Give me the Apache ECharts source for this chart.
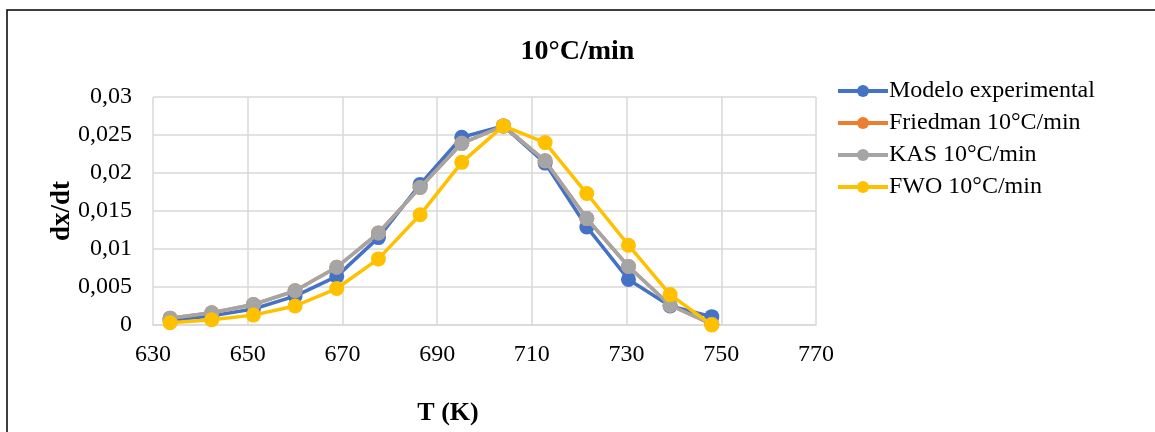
<!DOCTYPE html>
<html>
<head>
<meta charset="utf-8">
<script src="https://cdn.jsdelivr.net/npm/echarts@6/dist/echarts.min.js"></script>
<style>
html,body{margin:0;padding:0;background:#fff;}
#c{width:1155px;height:432px;}
</style>
</head>
<body>
<div id="c"></div>
<script>
var temperatures = [633.6, 642.4, 651.2, 660.0, 668.8, 677.6, 686.4, 695.2, 704.0, 712.8, 721.6, 730.4, 739.2, 748.0];
var modeloExperimental = [0.0006, 0.0012, 0.0021, 0.0038, 0.0064, 0.0115, 0.0185, 0.0247, 0.0262, 0.0213, 0.0129, 0.0060, 0.0025, 0.0011];
var friedman = [0.0009, 0.0016, 0.0027, 0.0045, 0.0076, 0.0121, 0.0181, 0.0239, 0.0262, 0.0216, 0.0140, 0.0077, 0.0026, 0.0001];
var kas = [0.0009, 0.0016, 0.0027, 0.0045, 0.0076, 0.0121, 0.0181, 0.0239, 0.0262, 0.0216, 0.0140, 0.0077, 0.0026, 0.0001];
var fwo = [0.0003, 0.0007, 0.0013, 0.0025, 0.0048, 0.0087, 0.0145, 0.0214, 0.0262, 0.0240, 0.0173, 0.0105, 0.0040, 0.0000];
var seriesNames = ['Modelo experimental', 'Friedman 10°C/min', 'KAS 10°C/min', 'FWO 10°C/min'];
var seriesColors = ['#4472C4', '#ED7D31', '#A5A5A5', '#FFC000'];
var chartTitle = '10°C/min';
var xTitle = 'T (K)';
var yTitle = 'dx/dt';

function pairs(ys) { return temperatures.map(function (t, i) { return [t, ys[i]]; }); }
var allData = [modeloExperimental, friedman, kas, fwo];
var FONT = '"Liberation Serif", "Times New Roman", serif';

var chart = echarts.init(document.getElementById('c'), null, {renderer: 'canvas'});
chart.setOption({
  animation: false,
  backgroundColor: '#fff',
  title: {
    text: chartTitle, left: 'center', top: 33,
    textStyle: {fontFamily: FONT, fontSize: 28, fontWeight: 'bold', color: '#000'}
  },
  legend: {
    orient: 'vertical', left: 831, top: 74, itemWidth: 50, itemHeight: 15, itemGap: 8,
    data: seriesNames,
    lineStyle: {width: 4},
    textStyle: {fontFamily: FONT, fontSize: 24, lineHeight: 24, color: '#000', padding: [0, 0, 0, -4]}
  },
  grid: {left: 153, right: 339, top: 97, bottom: 107, containLabel: false},
  xAxis: {
    type: 'value', min: 630, max: 770, interval: 20,
    axisLine: {show: true, lineStyle: {color: '#d9d9d9', width: 1.5}},
    axisTick: {show: false},
    splitLine: {show: true, lineStyle: {color: '#d9d9d9', width: 1.5}},
    axisLabel: {fontFamily: FONT, fontSize: 24, color: '#000', margin: 18}
  },
  yAxis: {
    type: 'value', min: 0, max: 0.03, interval: 0.005,
    axisLine: {show: false},
    axisTick: {show: false},
    splitLine: {show: true, lineStyle: {color: '#d9d9d9', width: 1.5}},
    axisLabel: {
      fontFamily: FONT, fontSize: 24, color: '#000', margin: 21,
      formatter: function (v) { return String(Number(v.toFixed(4))).replace('.', ','); }
    }
  },
  graphic: [
    {type: 'rect', shape: {x: 7, y: 10, width: 1200, height: 500}, style: {fill: 'none', stroke: '#000', lineWidth: 1.5}, silent: true, z: -10},
    {type: 'text', x: 448, y: 413, style: {text: xTitle, fontFamily: FONT, fontSize: 26, fontWeight: 'bold', fill: '#000', align: 'center', verticalAlign: 'middle'}},
    {type: 'text', x: 62, y: 211, rotation: Math.PI / 2, style: {text: yTitle, fontFamily: FONT, fontSize: 27, fontWeight: 'bold', fill: '#000', align: 'center', verticalAlign: 'middle'}}
  ],
  series: allData.map(function (d, i) {
    return {
      name: seriesNames[i], type: 'line', data: pairs(d),
      symbol: 'circle', symbolSize: 15,
      itemStyle: {color: seriesColors[i]},
      lineStyle: {color: seriesColors[i], width: 3.5},
      z: 2 + i
    };
  })
});
</script>
</body>
</html>
